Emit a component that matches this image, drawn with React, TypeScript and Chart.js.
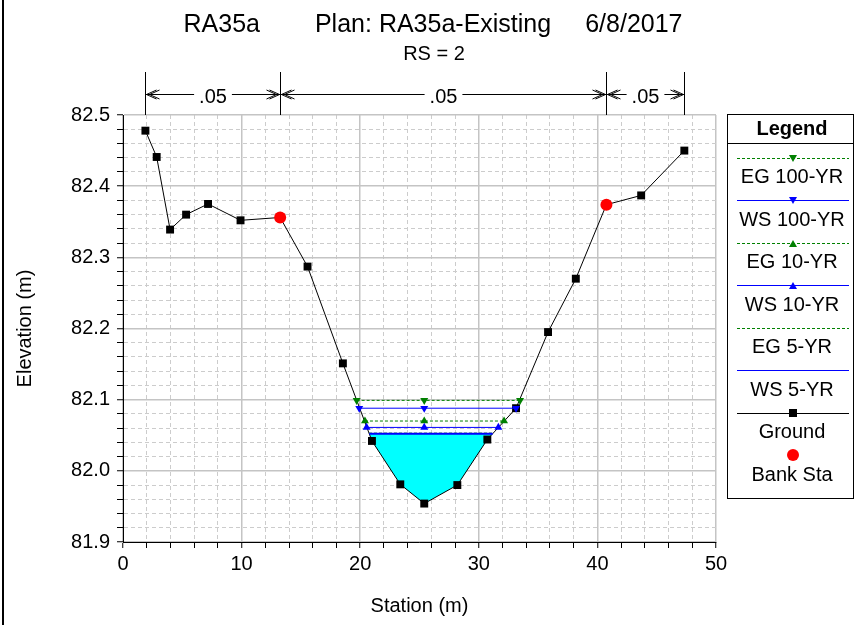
import React, { useEffect, useRef } from "react";
import { Chart, registerables } from "chart.js";

Chart.register(...registerables);

const FONT = "'Liberation Sans', Arial, Helvetica, sans-serif";

// ---- text ----
const titleParts = ["RA35a", "Plan: RA35a-Existing", "6/8/2017"];
const subtitle = "RS = 2";
const xTitle = "Station (m)";
const yTitle = "Elevation (m)";
const legendTitle = "Legend";

// ---- ground ----
const groundStation = [1.89, 2.84, 3.97, 5.32, 7.17, 9.91, 13.25, 15.56, 18.54, 20.99, 23.38, 25.4, 28.19, 30.72, 33.14, 35.84, 38.18, 40.76, 43.69, 47.33];
const groundElev = [82.478, 82.441, 82.339, 82.36, 82.375, 82.352, 82.356, 82.287, 82.151, 82.042, 81.981, 81.954, 81.98, 82.044, 82.088, 82.195, 82.27, 82.374, 82.387, 82.45];

// ---- bank stations ----
const bankStation = [13.25, 40.76];
const bankElev = [82.356, 82.374];

// ---- water surface / energy profiles ----
const profileNames = ["EG 100-YR", "WS 100-YR", "EG 10-YR", "WS 10-YR", "EG 5-YR", "WS 5-YR"];
const profileElev = [82.099, 82.088, 82.07, 82.061, 82.053, 82.052];
const profileLeftSta = [19.7, 19.92, 20.4, 20.54, 20.74, 20.76];
const profileRightSta = [33.48, 33.14, 32.13, 31.65, 31.2, 31.17];
const profileMidSta = 25.4;

// ---- Manning's n ----
const nStations = [1.89, 13.25, 40.76, 47.33];
const nValues = [".05", ".05", ".05"];

// ---- ticks ----
const xTickValues = [0, 2, 4, 6, 8, 10, 12, 14, 16, 18, 20, 22, 24, 26, 28, 30, 32, 34, 36, 38, 40, 42, 44, 46, 48, 50];
const xLabelValues = [0, 10, 20, 30, 40, 50];
const yTickValues = [81.9, 81.92, 81.94, 81.96, 81.98, 82.0, 82.02, 82.04, 82.06, 82.08, 82.1, 82.12, 82.14, 82.16, 82.18, 82.2, 82.22, 82.24, 82.26, 82.28, 82.3, 82.32, 82.34, 82.36, 82.38, 82.4, 82.42, 82.44, 82.46, 82.48, 82.5];
const yLabelValues = [81.9, 82.0, 82.1, 82.2, 82.3, 82.4, 82.5];

const near = (a: number, b: number) => Math.abs(a - b) < 1e-6;
const isXMajor = (v: any) => typeof v === "number" && xLabelValues.some((l) => near(l, v));
const isYMajor = (v: any) => typeof v === "number" && yLabelValues.some((l) => near(l, v));

const GREEN = "#008000";
const BLUE = "#0000FF";

function profileStyle(name: string) {
  const isEG = name.startsWith("EG");
  const marker = name.includes("100-") ? "down" : name.includes("10-") ? "up" : "none";
  return { color: isEG ? GREEN : BLUE, dash: isEG ? [3, 2] : [], marker };
}

function drawTri(ctx: CanvasRenderingContext2D, cx: number, cy: number, dir: string, color: string) {
  ctx.fillStyle = color;
  ctx.beginPath();
  if (dir === "down") {
    ctx.moveTo(cx - 4, cy - 3.5);
    ctx.lineTo(cx + 4, cy - 3.5);
    ctx.lineTo(cx, cy + 3.5);
  } else {
    ctx.moveTo(cx - 4, cy + 3.5);
    ctx.lineTo(cx + 4, cy + 3.5);
    ctx.lineTo(cx, cy - 3.5);
  }
  ctx.closePath();
  ctx.fill();
}

const decorPlugin = {
  id: "decor",
  afterDraw(chart: any) {
    const { ctx, chartArea, scales } = chart;
    const xs = scales.x;
    ctx.save();

    // left frame line
    ctx.fillStyle = "#000";
    ctx.fillRect(2, 0, 2, 625);

    // title
    ctx.fillStyle = "#000";
    ctx.font = `25px ${FONT}`;
    ctx.textBaseline = "alphabetic";
    ctx.textAlign = "left";
    const gaps = [55, 34];
    const widths = titleParts.map((t) => ctx.measureText(t).width);
    const total = widths[0] + gaps[0] + widths[1] + gaps[1] + widths[2];
    let tx = 433 - total / 2;
    titleParts.forEach((t, i) => {
      ctx.fillText(t, tx, 32);
      tx += widths[i] + (gaps[i] || 0);
    });
    ctx.font = `20px ${FONT}`;
    ctx.textAlign = "center";
    ctx.fillText(subtitle, 434, 60);

    // axis titles
    const cx = (chartArea.left + chartArea.right) / 2;
    const cy = (chartArea.top + chartArea.bottom) / 2;
    ctx.textBaseline = "middle";
    ctx.fillText(xTitle, cx, 606);
    ctx.save();
    ctx.translate(25, cy);
    ctx.rotate(-Math.PI / 2);
    ctx.fillText(yTitle, 0, 0);
    ctx.restore();

    // Manning's n annotations
    ctx.strokeStyle = "#000";
    ctx.lineWidth = 1;
    const nx = nStations.map((s) => Math.round(xs.getPixelForValue(s)) + 0.5);
    nx.forEach((x) => {
      ctx.beginPath();
      ctx.moveTo(x, 72);
      ctx.lineTo(x, chartArea.top);
      ctx.stroke();
    });
    const ay = 94.5;
    ctx.font = `20px ${FONT}`;
    ctx.textBaseline = "alphabetic";
    for (let i = 0; i < nValues.length; i++) {
      const a = nx[i];
      const b = nx[i + 1];
      const m = (a + b) / 2;
      const tw = ctx.measureText(nValues[i]).width;
      ctx.fillText(nValues[i], m, 102.5);
      ctx.beginPath();
      ctx.moveTo(a, ay);
      ctx.lineTo(m - tw / 2 - 5, ay);
      ctx.moveTo(m + tw / 2 + 5, ay);
      ctx.lineTo(b, ay);
      // arrowheads
      for (const off of [0, 3]) {
        ctx.moveTo(a + 11 + off, ay - 4.5);
        ctx.lineTo(a + 1 + off, ay);
        ctx.lineTo(a + 11 + off, ay + 4.5);
        ctx.moveTo(b - 11 - off, ay - 4.5);
        ctx.lineTo(b - 1 - off, ay);
        ctx.lineTo(b - 11 - off, ay + 4.5);
      }
      ctx.stroke();
    }

    // legend
    const L = { left: 727.5, right: 853.5, top: 114.5, bottom: 498.5, header: 143.5 };
    ctx.strokeStyle = "#000";
    ctx.lineWidth = 1;
    ctx.setLineDash([]);
    ctx.fillStyle = "#fff";
    ctx.fillRect(L.left, L.top, L.right - L.left, L.bottom - L.top);
    ctx.strokeRect(L.left, L.top, L.right - L.left, L.bottom - L.top);
    ctx.beginPath();
    ctx.moveTo(L.left, L.header);
    ctx.lineTo(L.right, L.header);
    ctx.stroke();
    ctx.fillStyle = "#000";
    ctx.font = `bold 20px ${FONT}`;
    ctx.textAlign = "center";
    ctx.textBaseline = "middle";
    const lcx = 792;
    ctx.fillText(legendTitle, lcx, 129);
    ctx.font = `20px ${FONT}`;
    const x0 = 737;
    const x1 = 849;
    const step = 42.5;
    const startY = 157.5;
    const items = [...profileNames, "Ground", "Bank Sta"];
    items.forEach((name, i) => {
      const ly = Math.round(startY + i * step) + 0.5;
      const tyy = startY + i * step + 20;
      if (i < profileNames.length) {
        const st = profileStyle(name);
        ctx.strokeStyle = st.color;
        ctx.setLineDash(st.dash);
        ctx.beginPath();
        ctx.moveTo(x0, ly);
        ctx.lineTo(x1, ly);
        ctx.stroke();
        ctx.setLineDash([]);
        if (st.marker !== "none") drawTri(ctx, 793, ly, st.marker, st.color);
      } else if (name === "Ground") {
        ctx.strokeStyle = "#000";
        ctx.beginPath();
        ctx.moveTo(x0, ly);
        ctx.lineTo(x1, ly);
        ctx.stroke();
        ctx.fillStyle = "#000";
        ctx.fillRect(789, ly - 4.5, 8, 8);
      } else {
        ctx.fillStyle = "#FF0000";
        ctx.beginPath();
        ctx.arc(793, startY + i * step, 6, 0, Math.PI * 2);
        ctx.fill();
      }
      ctx.fillStyle = "#000";
      ctx.fillText(name, lcx, tyy);
    });

    ctx.restore();
  },
};

export default function App() {
  const ref = useRef<HTMLCanvasElement>(null);

  useEffect(() => {
    const canvas = ref.current!;
    const ground = groundStation.map((x, i) => ({ x, y: groundElev[i] }));
    const banks = bankStation.map((x, i) => ({ x, y: bankElev[i] }));

    const ws5 = profileNames.length - 1;
    const water = [
      { x: profileLeftSta[ws5], y: profileElev[ws5] },
      ...ground.filter((p) => p.x > profileLeftSta[ws5] && p.x < profileRightSta[ws5]),
      { x: profileRightSta[ws5], y: profileElev[ws5] },
    ];

    const profileSets = profileNames.map((name, i) => {
      const st = profileStyle(name);
      const pts = [
        { x: profileLeftSta[i], y: profileElev[i] },
        { x: profileMidSta, y: profileElev[i] },
        { x: profileRightSta[i], y: profileElev[i] },
      ];
      return {
        label: name,
        data: pts,
        borderColor: st.color,
        backgroundColor: st.color,
        borderWidth: name === "WS 5-YR" ? 2 : 1,
        borderDash: st.dash,
        pointStyle: "triangle",
        pointRotation: st.marker === "down" ? 180 : 0,
        pointRadius: st.marker === "none" ? 0 : 4.6,
        pointBackgroundColor: st.color,
        pointBorderColor: st.color,
        pointBorderWidth: 0,
        fill: false,
        order: 1 + (profileNames.length - 1 - i),
      };
    });

    const chart = new Chart(canvas, {
      type: "line",
      data: {
        datasets: [
          {
            label: "Bank Sta",
            data: banks,
            showLine: false,
            pointStyle: "circle",
            pointRadius: 6,
            pointBackgroundColor: "#FF0000",
            pointBorderColor: "#FF0000",
            pointBorderWidth: 0,
            order: 0,
          },
          ...profileSets,
          {
            label: "Ground",
            data: ground,
            borderColor: "#000",
            borderWidth: 1,
            pointStyle: "rect",
            pointRadius: 5.6,
            pointBackgroundColor: "#000",
            pointBorderColor: "#000",
            pointBorderWidth: 0,
            fill: false,
            order: 10,
          },
          {
            label: "water",
            data: water,
            borderWidth: 0,
            borderColor: "rgba(0,0,0,0)",
            backgroundColor: "#00FFFF",
            pointRadius: 0,
            fill: { value: profileElev[ws5] },
            order: 11,
          },
        ] as any,
      },
      options: {
        animation: false,
        responsive: false,
        maintainAspectRatio: false,
        devicePixelRatio: 1,
        events: [],
        layout: { padding: { left: 0, right: 144, top: 115, bottom: 0 } },
        plugins: {
          legend: { display: false },
          title: { display: false },
          tooltip: { enabled: false },
        },
        scales: {
          x: {
            type: "linear",
            min: 0,
            max: 50,
            afterFit: (s: any) => {
              s.height = 83;
            },
            afterBuildTicks: (s: any) => {
              s.ticks = xTickValues.map((v) => ({ value: v }));
            },
            ticks: {
              autoSkip: false,
              maxRotation: 0,
              padding: 4,
              color: "#000",
              font: { family: FONT, size: 20 },
              callback: (v: any) => (isXMajor(v) ? String(v) : ""),
            },
            grid: {
              color: (c: any) => (isXMajor(c.tick?.value) ? "#c4c4c4" : "#cccccc"),
              lineWidth: (c: any) => (isXMajor(c.tick?.value) ? 1.5 : 1),
              tickColor: "#000",
              tickWidth: 1,
              tickLength: 6,
            },
            border: {
              display: true,
              color: "#000",
              width: 1,
              dash: (c: any) => (c.tick && !isXMajor(c.tick.value) ? [4, 3] : []),
            },
          },
          y: {
            type: "linear",
            min: 81.9,
            max: 82.5,
            afterFit: (s: any) => {
              s.width = 123;
            },
            afterBuildTicks: (s: any) => {
              s.ticks = yTickValues.map((v) => ({ value: v }));
            },
            ticks: {
              autoSkip: false,
              padding: 7,
              color: "#000",
              font: { family: FONT, size: 20 },
              callback: (v: any) => (isYMajor(v) ? Number(v).toFixed(1) : ""),
            },
            grid: {
              color: (c: any) => (isYMajor(c.tick?.value) ? "#c4c4c4" : "#cccccc"),
              lineWidth: (c: any) => (isYMajor(c.tick?.value) ? 1.5 : 1),
              tickColor: "#000",
              tickWidth: 1,
              tickLength: 6,
            },
            border: {
              display: true,
              color: "#000",
              width: 1,
              dash: (c: any) => (c.tick && !isYMajor(c.tick.value) ? [4, 3] : []),
            },
          },
        },
      } as any,
      plugins: [decorPlugin],
    });
    return () => chart.destroy();
  }, []);

  return (
    <div style={{ position: "fixed", left: 0, top: 0, width: 860, height: 625, background: "#fff" }}>
      <canvas ref={ref} width={860} height={625} style={{ display: "block", width: 860, height: 625 }} />
    </div>
  );
}
